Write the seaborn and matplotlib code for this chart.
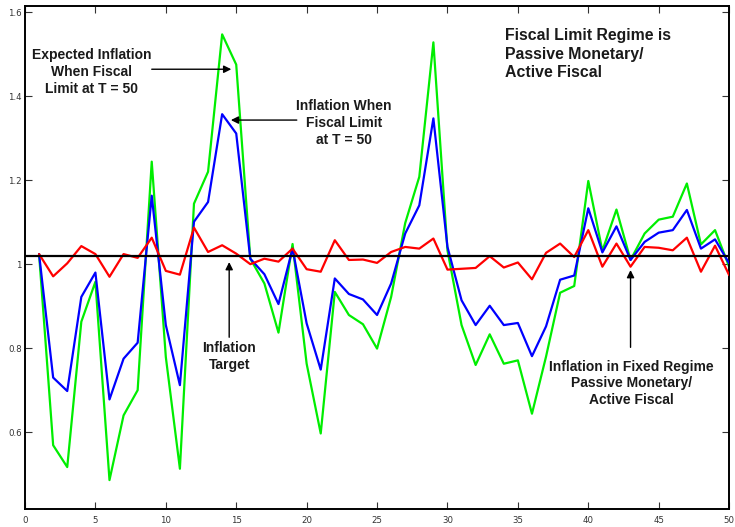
import numpy as np
import pandas as pd
import matplotlib
matplotlib.use("Agg")
import matplotlib.pyplot as plt
import seaborn as sns

# Simulated inflation paths, periods 1..50
periods = list(range(1, 51))

expected_inflation = [
    1.024, 0.569, 0.517, 0.863, 0.958, 0.486, 0.640, 0.700, 1.244, 0.779,
    0.513, 1.144, 1.220, 1.547, 1.475, 1.013, 0.954, 0.837, 1.048, 0.763,
    0.597, 0.934, 0.879, 0.857, 0.799, 0.922, 1.098, 1.208, 1.528, 1.033,
    0.855, 0.760, 0.833, 0.763, 0.771, 0.644, 0.780, 0.932, 0.948, 1.198,
    1.032, 1.130, 1.010, 1.073, 1.106, 1.113, 1.192, 1.047, 1.081, 0.994,
]

inflation_fiscal_limit = [
    1.024, 0.730, 0.698, 0.922, 0.980, 0.678, 0.775, 0.813, 1.163, 0.855,
    0.712, 1.101, 1.148, 1.357, 1.311, 1.013, 0.976, 0.905, 1.037, 0.859,
    0.749, 0.966, 0.929, 0.916, 0.879, 0.954, 1.073, 1.140, 1.347, 1.041,
    0.914, 0.855, 0.901, 0.855, 0.860, 0.781, 0.852, 0.963, 0.973, 1.133,
    1.028, 1.090, 1.010, 1.053, 1.075, 1.081, 1.129, 1.037, 1.059, 1.002,
]

inflation_fixed_regime = [
    1.024, 0.971, 1.002, 1.043, 1.024, 0.970, 1.024, 1.015, 1.063, 0.984,
    0.975, 1.087, 1.029, 1.045, 1.025, 1.000, 1.013, 1.006, 1.037, 0.988,
    0.982, 1.057, 1.010, 1.011, 1.003, 1.029, 1.041, 1.037, 1.061, 0.987,
    0.989, 0.991, 1.019, 0.992, 1.004, 0.964, 1.027, 1.049, 1.017, 1.081,
    0.994, 1.049, 0.994, 1.041, 1.039, 1.033, 1.063, 0.982, 1.044, 0.974,
]

inflation_target = 1.02

series_names = ["expected", "fiscal_limit", "fixed"]
series_colors = ["#00ee00", "#0000ff", "#ff0000"]

x_ticks = list(range(0, 51, 5))
y_ticks = [0.6, 0.8, 1.0, 1.2, 1.4, 1.6]
y_tick_labels = ["0.6", "0.8", "1", "1.2", "1.4", "1.6"]

df = pd.DataFrame({
    "t": periods * 3,
    "value": expected_inflation + inflation_fiscal_limit + inflation_fixed_regime,
    "series": [series_names[0]] * 50 + [series_names[1]] * 50 + [series_names[2]] * 50,
})

sns.set_style("ticks")
plt.rcParams["font.family"] = ["Liberation Sans", "DejaVu Sans"]

fig = plt.figure(figsize=(7.35, 5.27), dpi=100)
ax = fig.add_axes([0.034, 0.034, 0.958, 0.955])

sns.lineplot(
    data=df, x="t", y="value", hue="series", hue_order=series_names,
    palette=dict(zip(series_names, series_colors)), linewidth=1.6,
    legend=False, ax=ax, sort=False,
)
# draw green first so blue and red sit on top
for line, z in zip(ax.get_lines(), [2, 3, 4]):
    line.set_zorder(z)

ax.axhline(inflation_target, color="black", linewidth=1.6, zorder=5)

ax.set_xlim(0, 50)
ax.set_ylim(0.417, 1.615)
ax.set_xticks(x_ticks)
ax.set_xticklabels([str(v) for v in x_ticks])
ax.set_yticks(y_ticks)
ax.set_yticklabels(y_tick_labels)
ax.set_xlabel("")
ax.set_ylabel("")
ax.tick_params(direction="in", length=5, width=0.8, top=True, right=True,
               labelsize=6.2, colors="#333333")
ax.tick_params(axis="x", pad=5)
ax.tick_params(axis="y", pad=2.5)
for lbl in ax.get_xticklabels() + ax.get_yticklabels():
    lbl.set_family("DejaVu Sans")
for s in ax.spines.values():
    s.set_visible(True)
    s.set_linewidth(1.4)
    s.set_color("black")

arrow = dict(arrowstyle="-|>", color="black", lw=1.0, mutation_scale=11,
             shrinkA=0, shrinkB=0)
txt = dict(fontsize=10, fontweight="bold", color="#1a1a1a", ha="center",
           va="center", linespacing=1.25)

ax.text(4.75, 1.457, "Expected Inflation\nWhen Fiscal\nLimit at T = 50", **txt)
ax.annotate("", xy=(14.65, 1.464), xytext=(9.0, 1.464), arrowprops=arrow)

ax.text(22.66, 1.336, "Inflation When\nFiscal Limit\nat T = 50", **txt)
ax.annotate("", xy=(14.62, 1.343), xytext=(19.3, 1.343), arrowprops=arrow)

ax.text(14.5, 0.781, "Inflation\nTarget", **txt)
ax.annotate("", xy=(14.5, 1.005), xytext=(14.5, 0.826), arrowprops=arrow)

ax.text(43.05, 0.716, "Inflation in Fixed Regime\nPassive Monetary/\nActive Fiscal", **txt)
ax.annotate("", xy=(43.0, 0.986), xytext=(43.0, 0.802), arrowprops=arrow)

ax.text(34.1, 1.5, "Fiscal Limit Regime is\nPassive Monetary/\nActive Fiscal",
        fontsize=11.4, fontweight="bold", color="#1a1a1a", ha="left", va="center",
        linespacing=1.28)

fig.savefig("out.png", dpi=100)
